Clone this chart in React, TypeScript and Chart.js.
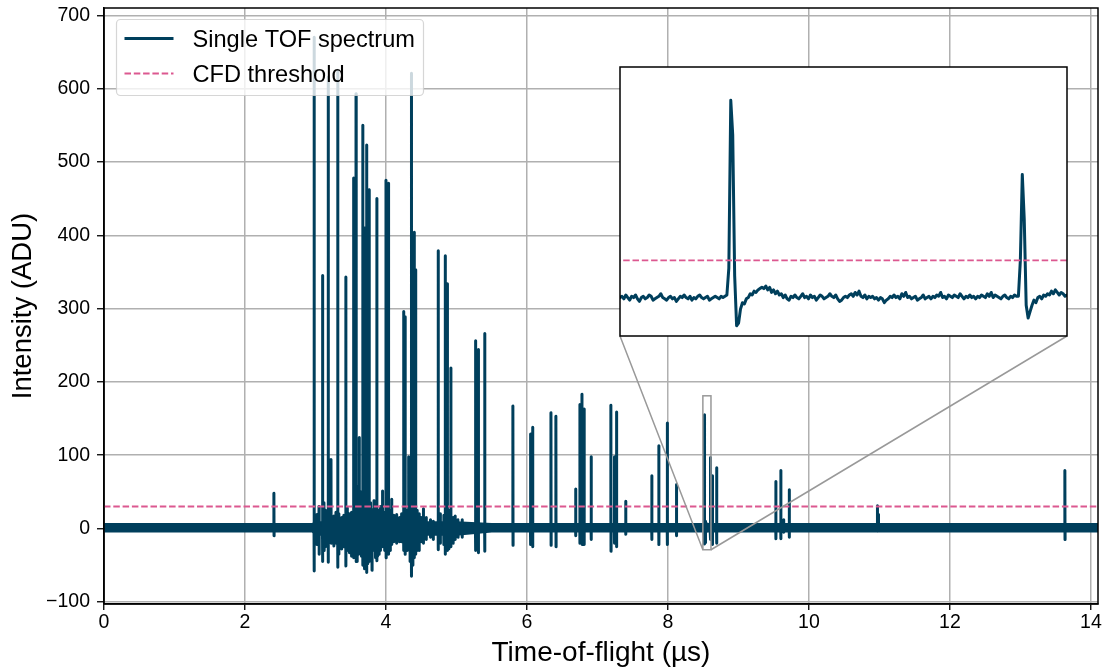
import React, { useEffect, useRef } from 'react';
import { Chart, registerables } from 'chart.js';

Chart.register(...registerables);

const FONT = "'Liberation Sans', Arial, Helvetica, sans-serif";
const TRACE_COLOR = '#003f5c';
const CFD_COLOR = '#dc5890';

// ---- axes ----
const xMin = 0;
const xMax = 14.1;
const yMin = -103;
const yMax = 710;
const xTickStep = 2;
const yTickStep = 100;

const xTitle = 'Time-of-flight (µs)';
const yTitle = 'Intensity (ADU)';
const legendLabels = ['Single TOF spectrum', 'CFD threshold'];

// ---- threshold / baseline ----
const cfdThreshold = 30;
const baselineLevel = 1;

// noise envelope of the baseline (ADU)
const noiseTimes = [0, 2.95, 3.0, 5.0, 5.5, 14.1];
const noiseUpper = [7.5, 7.5, 10, 10, 7.5, 7.5];
const noiseLower = [-5.5, -5.5, -10, -10, -5.5, -5.5];

// ---- peaks outside the zoomed window (µs, ADU, undershoot ADU) ----
const peakTimes = [
  2.41, 2.98, 3.02, 3.10, 3.12, 3.18, 3.22, 3.26, 3.315, 3.37,
  3.43, 3.48, 3.54, 3.575, 3.61, 3.62, 3.65, 3.67, 3.70, 3.725,
  3.76, 3.80, 3.85, 3.87, 3.90, 3.95, 4.00, 4.035, 4.08, 4.15,
  4.19, 4.25, 4.27, 4.32, 4.36, 4.40, 4.42, 4.47, 4.53, 4.63,
  4.74, 4.84, 4.87, 4.92, 4.98, 5.08, 5.27, 5.31, 5.40, 5.80,
  6.05, 6.08, 6.34, 6.41, 6.69, 6.75, 6.78, 6.81, 6.91, 7.19,
  7.24, 7.27, 7.40, 7.77, 7.87, 7.99, 8.12, 8.63, 8.69, 9.53,
  9.60, 9.64, 9.72, 10.97, 10.985, 13.63,
];
const peakHeights = [
  48, 670, 19, 345, 35, 616, 94, 17, 625, 15,
  343, 20, 478, 593, 58, 124, 50, 550, 410, 523,
  462, 26, 29, 450, 25, 51, 475, 471, 40, 19,
  15, 296, 289, 98, 621, 404, 353, 20, 27, 12,
  379, 372, 334, 219, 17, 12, 256, 244, 266, 167,
  129, 138, 158, 153, 54, 169, 183, 163, 98, 168,
  98, 159, 37, 72, 113, 144, 60, 72, 83, 64,
  79, 12, 53, 31, 19, 79,
];
const peakDips = [
  -10, -58, -22, -45, -30, -46, -20, -24, -53, -28,
  -51, -33, -40, -45, -35, -30, -38, -50, -55, -60,
  -45, -57, -40, -44, -35, -25, -40, -35, -22, -20,
  -18, -30, -35, -25, -65, -40, -35, -30, -20, -12,
  -29, -35, -30, -25, -15, -12, -30, -33, -31, -23,
  -22, -25, -23, -25, -10, -20, -22, -22, -15, -31,
  -20, -25, -8, -15, -22, -22, -10, -22, -20, -14,
  -14, -5, -12, -3, -2, -15,
];

// ---- ringing between the dense peaks (µs, ADU, undershoot ADU) ----
const ringTimes = [
  3.05, 3.14, 3.29, 3.33, 3.40, 3.45, 3.51, 3.59, 3.69, 3.74,
  3.78, 3.83, 3.88, 3.92, 3.98, 4.02, 4.06, 4.11, 4.22, 4.30,
  4.34, 4.38, 4.44, 4.50, 4.57, 4.67, 4.77, 4.82, 4.89, 4.95,
  5.02,
];
const ringHeights = [
  30, 25, 22, 20, 18, 28, 22, 40, 45, 40,
  35, 38, 20, 30, 22, 30, 25, 18, 20, 25,
  35, 30, 25, 15, 15, 10, 20, 18, 25, 15,
  12,
];
const ringDips = [
  -35, -25, -20, -35, -25, -30, -38, -45, -50, -48,
  -42, -30, -38, -30, -30, -25, -30, -18, -18, -30,
  -45, -50, -30, -18, -15, -15, -20, -22, -28, -20,
  -12,
];

// ---- detailed samples inside the zoomed window ----
const zoomStart = 8.495; // µs
const zoomStep = 0.0005; // µs
const zoomValues = [
  1, 2, 0, 3, 1, -1, 2, 1, 3, 0,
  -2, 1, 2, 0, 1, 3, 2, -1, 0, 1,
  2, 4, 1, 0, -1, 1, 2, 0, 1, -2,
  0, 2, 1, 3, 1, 0, 2, -1, 1, 0,
  2, 3, 1, 0, 1, 2, -1, 0, 1, 2,
  1, 0, 2, 1, 2,
  3, 24, 155, 128, 18,
  -21, -19, -8, -3, -4, 0, 1, 4, 3, 6,
  5, 7, 8, 9, 8, 10, 7, 9, 5, 7,
  4, 6, 3, 4, 1, 3, 0, -1, 2, 1,
  3, 1, 0, 2, 4, 1, 2, 0, 3, 1,
  2, -1, 1, 3, 2, 0, 1, 2, 4, 2,
  1, 3, 0, -2, -1, 1, 2, 1, 3, 4,
  2, 5, 3, 6, 2, 1, 3, 0, 2, 1,
  2, 0, 1, -1, 1, 0, -3, -1, 0, 2,
  1, 3, 1, 2, 0, 4, 2, 5, 1, 2,
  0, 1, 2, -1, 0, 1, 3, 0, 1, 2,
  0, 2, 1, 3, 2, 5, 1, 2, 0, 3,
  2, 1, 3, 2, 1, 4, 2, 0, 2, 1,
  3, 1, 2, 0, 2, 1, 3, 2, 1, 4,
  2, 5, 1, 3, 2, 1, 0, 2, 3, 1,
  0, 2, 1, 3, 2,
  2, 30, 97, 62, -5,
  -15, -10, -5, -1, -3, 1, 2, 0, 3, 2,
  4, 3, 6, 4, 7, 5, 3, 5, 4, 2,
  3,
];
const zoomXMin = 8.495;
const zoomXMax = 8.61;
const zoomYMin = -29;
const zoomYMax = 181;

// inset placement (page pixels)
const INSET = { left: 620, top: 67, width: 447, height: 269 };
const INSET_PAD = 2;

const TRACE_WIDTH = 3;
const CFD_WIDTH = 1.8;
const CFD_DASH = [6.5, 2.8];

type Pt = { x: number; y: number };

function pushSpikes(pts: Pt[], times: number[], heights: number[], dips: number[]) {
  for (let i = 0; i < times.length; i++) {
    const t = times[i];
    pts.push({ x: t - 0.001, y: baselineLevel });
    pts.push({ x: t, y: heights[i] });
    pts.push({ x: t + 0.002, y: dips[i] });
    pts.push({ x: t + 0.003, y: baselineLevel });
  }
}

function buildTrace(): Pt[] {
  const pts: Pt[] = [];
  pts.push({ x: xMin, y: baselineLevel });
  pushSpikes(pts, peakTimes, peakHeights, peakDips);
  pushSpikes(pts, ringTimes, ringHeights, ringDips);
  zoomValues.forEach((v, i) => pts.push({ x: zoomStart + i * zoomStep, y: v }));
  pts.push({ x: xMax, y: baselineLevel });
  pts.sort((a, b) => a.x - b.x);
  return pts;
}

function roundRectPath(ctx: CanvasRenderingContext2D, x: number, y: number, w: number, h: number, r: number) {
  ctx.beginPath();
  ctx.moveTo(x + r, y);
  ctx.lineTo(x + w - r, y);
  ctx.arcTo(x + w, y, x + w, y + r, r);
  ctx.lineTo(x + w, y + h - r);
  ctx.arcTo(x + w, y + h, x + w - r, y + h, r);
  ctx.lineTo(x + r, y + h);
  ctx.arcTo(x, y + h, x, y + h - r, r);
  ctx.lineTo(x, y + r);
  ctx.arcTo(x, y, x + r, y, r);
  ctx.closePath();
}

const mainDecor = {
  id: 'mainDecor',
  afterDatasetsDraw(chart: any) {
    const { ctx, chartArea: ca, scales } = chart;
    const xs = scales.x;
    const ys = scales.y;
    ctx.save();
    // zoom rectangle
    const rx1 = xs.getPixelForValue(zoomXMin);
    const rx2 = xs.getPixelForValue(zoomXMax);
    const ry1 = ys.getPixelForValue(zoomYMax);
    const ry2 = ys.getPixelForValue(zoomYMin);
    ctx.strokeStyle = '#999999';
    ctx.lineWidth = 1.5;
    ctx.strokeRect(rx1, ry1, rx2 - rx1, ry2 - ry1);
    // connectors to inset bottom corners
    const ib = INSET.top + INSET.height;
    ctx.beginPath();
    ctx.moveTo(rx1, ry2);
    ctx.lineTo(INSET.left, ib);
    ctx.moveTo(rx2, ry2);
    ctx.lineTo(INSET.left + INSET.width, ib);
    ctx.stroke();
    // spines
    ctx.strokeStyle = '#000';
    ctx.lineWidth = 1.5;
    ctx.strokeRect(ca.left, ca.top, ca.right - ca.left, ca.bottom - ca.top);
    ctx.restore();
  },
  afterDraw(chart: any) {
    const { ctx, chartArea: ca } = chart;
    ctx.save();
    const lx = ca.left + 12.5;
    const ly = ca.top + 11.5;
    const lw = 307;
    const lh = 76;
    roundRectPath(ctx, lx, ly, lw, lh, 4);
    ctx.fillStyle = 'rgba(255,255,255,0.8)';
    ctx.fill();
    ctx.strokeStyle = 'rgba(204,204,204,0.8)';
    ctx.lineWidth = 1.2;
    ctx.stroke();

    const y1 = ly + 19;
    const y2 = ly + 54;
    ctx.lineCap = 'butt';
    ctx.strokeStyle = TRACE_COLOR;
    ctx.lineWidth = TRACE_WIDTH;
    ctx.beginPath();
    ctx.moveTo(lx + 8, y1);
    ctx.lineTo(lx + 57, y1);
    ctx.stroke();

    ctx.strokeStyle = CFD_COLOR;
    ctx.lineWidth = CFD_WIDTH;
    ctx.setLineDash(CFD_DASH);
    ctx.beginPath();
    ctx.moveTo(lx + 8, y2);
    ctx.lineTo(lx + 57, y2);
    ctx.stroke();
    ctx.setLineDash([]);

    ctx.fillStyle = '#000';
    ctx.font = `23.6px ${FONT}`;
    ctx.textAlign = 'left';
    ctx.textBaseline = 'alphabetic';
    ctx.fillText(legendLabels[0], lx + 76, y1 + 8.5);
    ctx.fillText(legendLabels[1], lx + 76, y2 + 8.5);
    ctx.restore();
  },
};

const insetDecor = {
  id: 'insetDecor',
  beforeDraw(chart: any) {
    const { ctx, chartArea: ca } = chart;
    ctx.save();
    ctx.fillStyle = '#fff';
    ctx.fillRect(ca.left, ca.top, ca.right - ca.left, ca.bottom - ca.top);
    ctx.restore();
  },
  afterDraw(chart: any) {
    const { ctx, chartArea: ca } = chart;
    ctx.save();
    ctx.strokeStyle = '#000';
    ctx.lineWidth = 1.5;
    ctx.strokeRect(ca.left, ca.top, ca.right - ca.left, ca.bottom - ca.top);
    ctx.restore();
  },
};

export default function App() {
  const mainRef = useRef<HTMLCanvasElement>(null);
  const insetRef = useRef<HTMLCanvasElement>(null);

  useEffect(() => {
    const trace = buildTrace();
    const thresholdLine = [
      { x: xMin, y: cfdThreshold },
      { x: xMax, y: cfdThreshold },
    ];
    const tickFont = { family: FONT, size: 19.5 };

    const main = new Chart(mainRef.current as HTMLCanvasElement, {
      type: 'line',
      data: {
        datasets: [
          {
            label: legendLabels[1],
            data: thresholdLine,
            borderColor: CFD_COLOR,
            borderWidth: CFD_WIDTH,
            borderDash: CFD_DASH,
            pointRadius: 0,
            order: 0,
          },
          {
            label: legendLabels[0],
            data: trace,
            borderColor: TRACE_COLOR,
            borderWidth: TRACE_WIDTH,
            borderJoinStyle: 'round',
            borderCapStyle: 'round',
            pointRadius: 0,
            tension: 0,
            order: 1,
          },
          {
            label: 'noise upper',
            data: noiseTimes.map((t, i) => ({ x: t, y: noiseUpper[i] })),
            borderColor: 'transparent',
            borderWidth: 0,
            backgroundColor: TRACE_COLOR,
            fill: '+1',
            pointRadius: 0,
            order: 2,
          },
          {
            label: 'noise lower',
            data: noiseTimes.map((t, i) => ({ x: t, y: noiseLower[i] })),
            borderColor: 'transparent',
            borderWidth: 0,
            fill: false,
            pointRadius: 0,
            order: 2,
          },
        ],
      } as any,
      options: {
        responsive: false,
        animation: false,
        devicePixelRatio: 1,
        events: [],
        layout: { padding: { left: 0, right: 6, top: 8, bottom: 0 } },
        plugins: { legend: { display: false }, tooltip: { enabled: false } },
        scales: {
          x: {
            type: 'linear',
            min: xMin,
            max: xMax,
            ticks: {
              stepSize: xTickStep,
              includeBounds: false,
              font: tickFont,
              color: '#000',
              padding: 1,
              maxRotation: 0,
            },
            grid: { color: '#b0b0b0', lineWidth: 1.5, tickColor: '#000', tickLength: 6, tickWidth: 1.3 },
            border: { display: true, color: '#000', width: 1.5 },
            title: { display: true, text: xTitle, font: { family: FONT, size: 28 }, color: '#000', padding: { top: 0, bottom: 1 } },
            afterFit: (s: any) => {
              s.height = 67;
              s.paddingLeft = 0;
              s.paddingRight = 0;
            },
          },
          y: {
            type: 'linear',
            min: yMin,
            max: yMax,
            ticks: {
              stepSize: yTickStep,
              includeBounds: false,
              font: tickFont,
              color: '#000',
              padding: 7,
              callback: (v: any) => (v < 0 ? '\u2212' + Math.abs(v) : String(v)),
            },
            grid: { color: '#b0b0b0', lineWidth: 1.5, tickColor: '#000', tickLength: 7, tickWidth: 1.3 },
            border: { display: true, color: '#000', width: 1.5 },
            title: { display: true, text: yTitle, font: { family: FONT, size: 27.5 }, color: '#000', padding: { top: 7, bottom: 0 } },
            afterFit: (s: any) => {
              s.width = 104;
              s.paddingTop = 0;
              s.paddingBottom = 0;
            },
          },
        },
      } as any,
      plugins: [mainDecor],
    });

    const inset = new Chart(insetRef.current as HTMLCanvasElement, {
      type: 'line',
      data: {
        datasets: [
          {
            data: thresholdLine,
            borderColor: CFD_COLOR,
            borderWidth: CFD_WIDTH,
            borderDash: CFD_DASH,
            pointRadius: 0,
            order: 0,
          },
          {
            data: trace,
            borderColor: TRACE_COLOR,
            borderWidth: TRACE_WIDTH,
            borderJoinStyle: 'round',
            borderCapStyle: 'round',
            pointRadius: 0,
            tension: 0,
            order: 1,
          },
        ],
      } as any,
      options: {
        responsive: false,
        animation: false,
        devicePixelRatio: 1,
        events: [],
        layout: { padding: INSET_PAD },
        plugins: { legend: { display: false }, tooltip: { enabled: false } },
        scales: {
          x: { type: 'linear', display: false, min: zoomXMin, max: zoomXMax },
          y: { type: 'linear', display: false, min: zoomYMin, max: zoomYMax },
        },
      } as any,
      plugins: [insetDecor],
    });

    return () => {
      main.destroy();
      inset.destroy();
    };
  }, []);

  return (
    <div style={{ position: 'fixed', left: 0, top: 0, width: 1104, height: 671, background: '#fff' }}>
      <canvas ref={mainRef} width={1104} height={671} style={{ position: 'absolute', left: 0, top: 0, width: 1104, height: 671 }} />
      <canvas
        ref={insetRef}
        width={INSET.width + 2 * INSET_PAD}
        height={INSET.height + 2 * INSET_PAD}
        style={{
          position: 'absolute',
          left: INSET.left - INSET_PAD,
          top: INSET.top - INSET_PAD,
          width: INSET.width + 2 * INSET_PAD,
          height: INSET.height + 2 * INSET_PAD,
        }}
      />
    </div>
  );
}
